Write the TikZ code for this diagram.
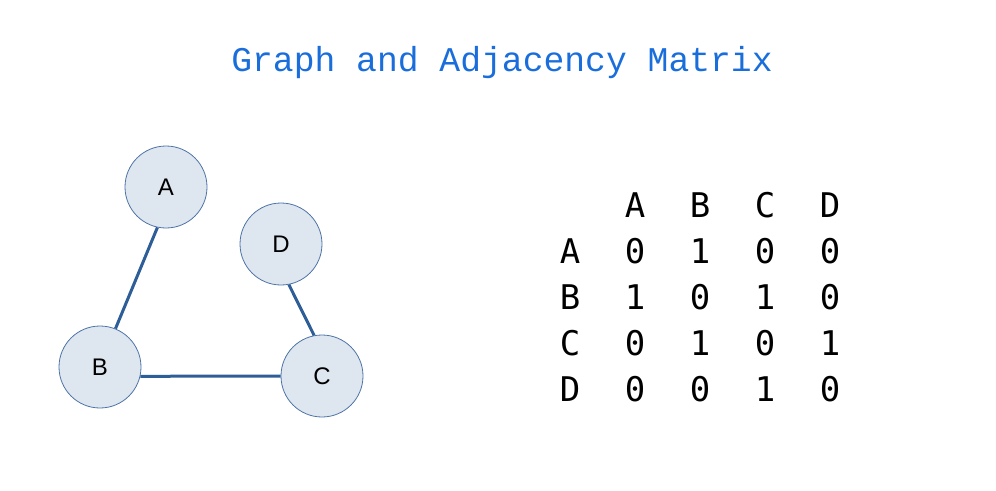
\documentclass[tikz,border=0pt]{standalone}
\usepackage{fontspec}
\setmainfont{Liberation Sans}
\newfontfamily\titlemono{Liberation Mono}
\newfontfamily\matmono[RawFeature=+zero]{DejaVu Sans Mono}
\definecolor{titleblue}{RGB}{26,110,220}
\definecolor{vertfill}{RGB}{222,230,240}
\definecolor{vertline}{RGB}{79,116,168}
\definecolor{edgeblue}{RGB}{46,94,152}
\tikzset{
    vertex/.style={circle,draw=vertline,line width=0.8pt,fill=vertfill,minimum size=82pt,inner sep=0pt,font=\fontsize{24}{26}\selectfont},
    link/.style={line width=3pt,edgeblue},
    entry/.style={anchor=base,inner sep=0pt,font=\matmono\fontsize{34}{36}\selectfont}
}

\begin{document}
\begin{tikzpicture}[x=1pt,y=-1pt]
    \useasboundingbox (0,0) rectangle (996,490);

    \node[anchor=base,inner sep=0pt,titleblue,font=\titlemono\fontsize{34.7}{36}\selectfont] (title) at (502,71) {Graph and Adjacency Matrix};

    \node[vertex] (A) at (166,187) {A};
    \node[vertex] (D) at (281,244) {D};
    \node[vertex] (B) at (100,367) {B};
    \node[vertex] (C) at (322,376) {C};

    \draw[link] (A.-102) -- (B.68);
    \draw[link] (D.-79) -- (C.101);
    \draw[link] (B.-13) -- (C.west);

    \node[entry] (hA) at (635,217) {A};
    \node[entry] (hB) at (700,217) {B};
    \node[entry] (hC) at (765,217) {C};
    \node[entry] (hD) at (830,217) {D};

    \node[entry] (rA) at (570,263) {A};
    \node[entry] (rB) at (570,309) {B};
    \node[entry] (rC) at (570,355) {C};
    \node[entry] (rD) at (570,401) {D};

    \node[entry] (aa) at (635,263) {0};
    \node[entry] (ab) at (700,263) {1};
    \node[entry] (ac) at (765,263) {0};
    \node[entry] (ad) at (830,263) {0};

    \node[entry] (ba) at (635,309) {1};
    \node[entry] (bb) at (700,309) {0};
    \node[entry] (bc) at (765,309) {1};
    \node[entry] (bd) at (830,309) {0};

    \node[entry] (ca) at (635,355) {0};
    \node[entry] (cb) at (700,355) {1};
    \node[entry] (cc) at (765,355) {0};
    \node[entry] (cd) at (830,355) {1};

    \node[entry] (da) at (635,401) {0};
    \node[entry] (db) at (700,401) {0};
    \node[entry] (dc) at (765,401) {1};
    \node[entry] (dd) at (830,401) {0};
\end{tikzpicture}
\end{document}
